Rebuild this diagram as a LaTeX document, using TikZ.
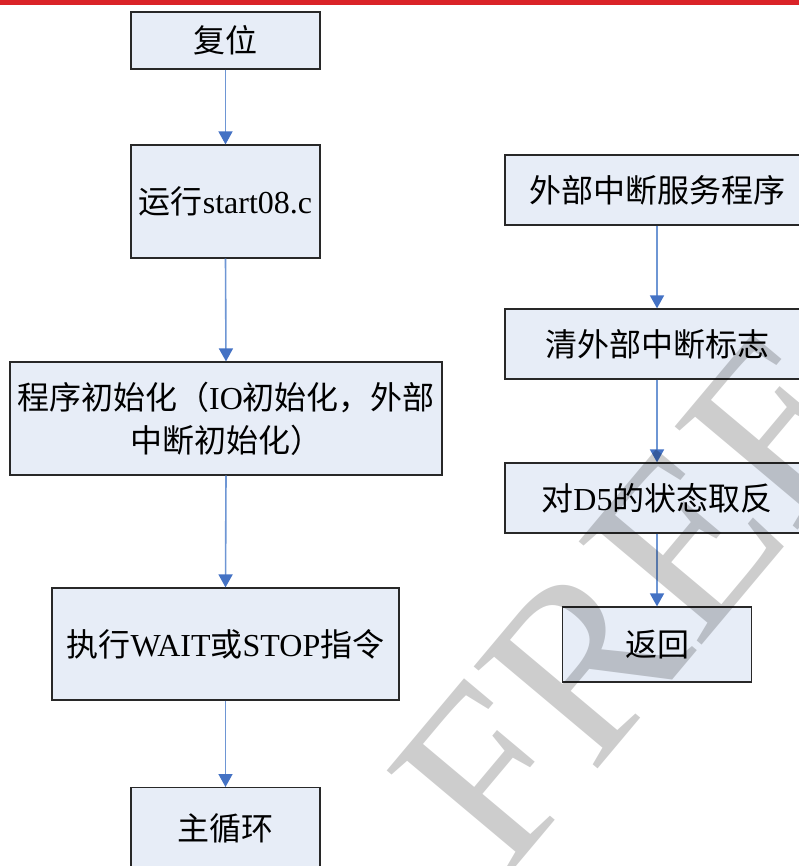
\documentclass[tikz,border=0pt]{standalone}
\usepackage{fontspec}
\setmainfont{Liberation Serif}
\newfontfamily\cjk{Noto Sans CJK SC}
\usetikzlibrary{arrows.meta}
\definecolor{boxfill}{RGB}{231,237,247}
\definecolor{boxline}{RGB}{40,40,40}
\definecolor{lineblue}{RGB}{110,150,212}
\definecolor{tipblue}{RGB}{68,114,196}
\definecolor{redbar}{RGB}{218,35,40}
\definecolor{wmgray}{RGB}{205,205,205}
\tikzset{
  flowbox/.style={draw=boxline, fill=boxfill, line width=1.2pt, inner sep=0pt,
    align=center, font=\fontsize{32}{43}\selectfont},
  flowarrow/.style={draw=lineblue, line width=1.6pt,
    -{Triangle[width=14pt,length=13pt,color=tipblue]}}
}
\begin{document}
\begin{tikzpicture}[x=1pt,y=-1pt]
\useasboundingbox (0,0) rectangle (799,866);
\fill[redbar] (0,0) rectangle (799,5);
% left column
\node[flowbox, minimum width=189pt, minimum height=57pt] (reset) at (225.5,40.5) {{\cjk 复位}};
\node[flowbox, minimum width=189pt, minimum height=113pt] (run) at (225.5,201.5) {{\cjk 运行}start08.c};
\node[flowbox, minimum width=432pt, minimum height=113pt] (init) at (226,418.5)
  {{\cjk 程序初始化（}IO{\cjk 初始化，外部}\\{\cjk 中断初始化）}};
\node[flowbox, minimum width=347pt, minimum height=112pt] (exec) at (225.5,644)
  {{\cjk 执行}WAIT{\cjk 或}STOP{\cjk 指令}};
\node[flowbox, minimum width=189pt, minimum height=86pt, anchor=north] (main) at (225.5,787) {};
\node[font=\fontsize{32}{43}\selectfont] (maintext) at (225.5,828) {{\cjk 主循环}};
% right column
\node[flowbox, minimum width=304pt, minimum height=70pt] (isr) at (657,190) {{\cjk 外部中断服务程序}};
\node[flowbox, minimum width=304pt, minimum height=70pt] (clr) at (657,344) {{\cjk 清外部中断标志}};
\node[flowbox, minimum width=304pt, minimum height=70pt] (inv) at (657,498) {{\cjk 对}D5{\cjk 的状态取反}};
\node[flowbox, minimum width=189pt, minimum height=75pt] (ret) at (657,644.5) {{\cjk 返回}};
% connectors
\draw[flowarrow] (reset.south) -- (run.north);
\draw[flowarrow] (run.south) -- (init.north);
\draw[flowarrow] (init.south) -- (exec.north);
\draw[flowarrow] (exec.south) -- (main.north);
\draw[flowarrow] (isr.south) -- (clr.north);
\draw[flowarrow] (clr.south) -- (inv.north);
\draw[flowarrow] (inv.south) -- (ret.north);
% watermark
\begin{scope}[blend mode=multiply]
\node[rotate=50, anchor=base west, inner sep=0pt, text=wmgray,
  font=\fontsize{245}{245}\selectfont] (wm) at (505,880) {FREE TRIAL};
\end{scope}
\end{tikzpicture}
\end{document}
